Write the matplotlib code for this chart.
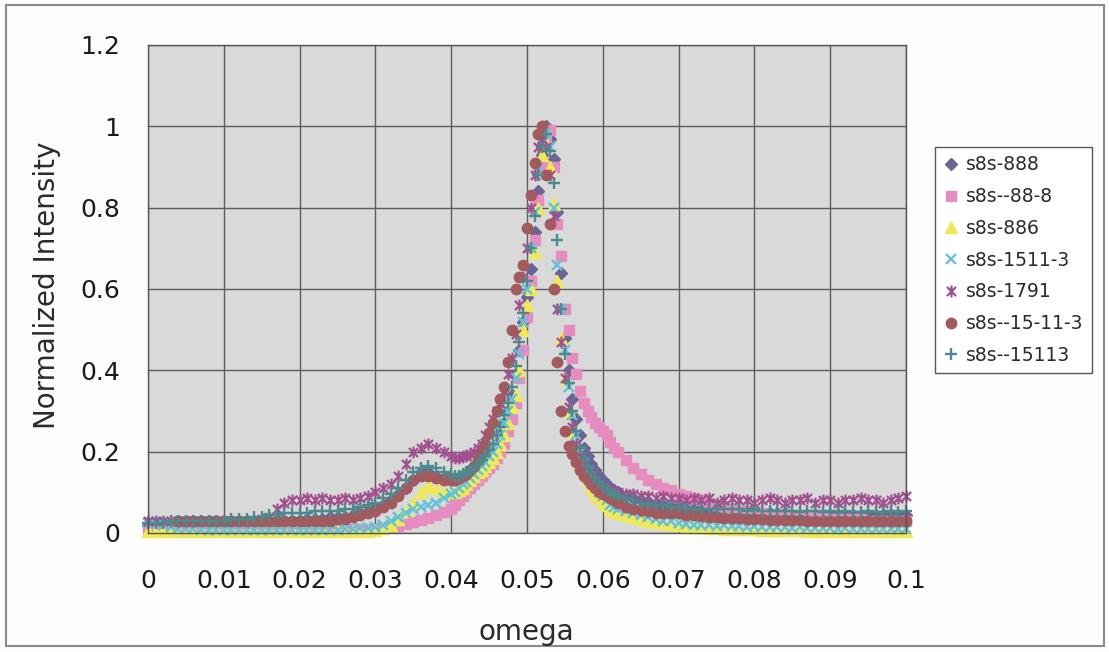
import numpy as np
import matplotlib
matplotlib.use("Agg")
import matplotlib.pyplot as plt
from matplotlib.path import Path
from matplotlib.patches import Rectangle

nan = np.nan

# omega sampling: coarse in the wings, finer through the peak
omega = np.round(np.concatenate([
    np.arange(0.000, 0.0395, 0.001),     # 40 pts
    np.arange(0.0400, 0.06205, 0.0005),  # 45 pts
    np.arange(0.063, 0.1005, 0.001),     # 38 pts
]), 4)

s888 = [
    0.02, 0.02, 0.02, 0.02, 0.02, 0.02, 0.02, 0.02, 0.02, 0.02,
    0.02, 0.02, 0.02, 0.025, 0.025, 0.025, 0.03, 0.03, 0.03, 0.03,
    0.03, 0.035, 0.035, 0.035, 0.04, 0.04, 0.04, 0.045, 0.05, 0.055,
    0.06, 0.07, 0.08, 0.095, 0.11, 0.13, 0.15, 0.15, 0.14, 0.135,
    0.130, 0.130, 0.130, 0.135, 0.140, 0.145, 0.150, 0.155, 0.165, 0.175,
    0.190, 0.200, 0.220, 0.240, 0.270, 0.300, 0.340, 0.390, 0.450, 0.520,
    0.580, 0.650, 0.740, 0.840, 0.930, 1.000, 0.970, 0.920, 0.790, 0.640,
    0.480, 0.400, 0.330, 0.280, 0.240, 0.210, 0.190, 0.170, 0.155, 0.140,
    0.130, 0.120, 0.110, 0.105, 0.100,
    0.090, 0.085, 0.080, 0.075, 0.070, 0.070, 0.065, 0.065, 0.060, 0.060,
    0.060, 0.055, 0.055, 0.055, 0.050, 0.050, 0.050, 0.050, 0.050, 0.050,
    0.050, 0.050, 0.045, 0.045, 0.045, 0.045, 0.045, 0.045, 0.045, 0.045,
    0.045, 0.045, 0.045, 0.045, 0.045, 0.045, 0.045, 0.045,
]

s88_8 = [
    0.01, 0.01, 0.01, 0.01, 0.01, 0.01, 0.01, 0.01, 0.01, 0.01,
    0.01, 0.01, 0.01, 0.01, 0.01, 0.01, 0.01, 0.01, 0.01, 0.01,
    0.01, 0.01, 0.01, 0.01, 0.01, 0.01, 0.01, 0.01, 0.01, 0.01,
    0.010, 0.012, 0.015, 0.018, 0.022, 0.027, 0.032, 0.038, 0.045, 0.052,
    0.060, 0.070, 0.080, 0.090, 0.100, 0.110, 0.120, 0.130, 0.140, 0.150,
    0.160, 0.170, 0.185, 0.200, 0.220, 0.250, 0.280, 0.320, 0.380, 0.450,
    0.530, 0.620, 0.720, 0.820, 0.900, 0.970, 0.990, 0.900, 0.760, 0.680,
    0.550, 0.500, 0.430, 0.390, 0.350, 0.320, 0.300, 0.285, 0.270, 0.260,
    0.250, 0.240, 0.225, 0.210, 0.200,
    0.180, 0.160, 0.145, 0.130, 0.120, 0.110, 0.105, 0.095, 0.090, 0.085,
    0.080, 0.075, 0.070, 0.065, 0.060, 0.055, 0.055, 0.050, 0.050, 0.045,
    0.045, 0.045, 0.040, 0.040, 0.040, 0.040, 0.040, 0.035, 0.035, 0.035,
    0.035, 0.035, 0.030, 0.030, 0.030, 0.030, 0.030, 0.030,
]

s886 = [
    0.005, 0.005, 0.005, 0.005, 0.005, 0.005, 0.005, 0.005, 0.005, 0.005,
    0.005, 0.005, 0.005, 0.005, 0.005, 0.005, 0.005, 0.005, 0.005, 0.005,
    0.005, 0.005, 0.005, 0.005, 0.005, 0.005, 0.005, 0.005, 0.005, 0.005,
    0.008, 0.012, 0.020, 0.035, 0.055, 0.075, 0.100, 0.115, 0.110, 0.100,
    0.100, 0.100, 0.105, 0.110, 0.120, 0.130, 0.140, 0.150, 0.155, 0.165,
    0.175, 0.185, 0.200, 0.220, 0.240, 0.270, 0.310, 0.340, 0.400, 0.500,
    0.560, 0.600, 0.690, 0.800, 0.930, 0.960, 0.900, 0.810, 0.620, 0.480,
    0.380, 0.300, 0.250, 0.210, 0.175, 0.150, 0.130, 0.110, 0.095, 0.085,
    0.075, 0.070, 0.060, 0.055, 0.050,
    0.045, 0.040, 0.035, 0.030, 0.028, 0.025, 0.022, 0.020, 0.018, 0.015,
    0.015, 0.012, 0.012, 0.010, 0.010, 0.010, 0.010, 0.010, 0.008, 0.008,
    0.008, 0.008, 0.008, 0.008, 0.005, 0.005, 0.005, 0.005, 0.005, 0.005,
    0.005, 0.005, 0.005, 0.005, 0.005, 0.005, 0.005, 0.005,
]

s1511_3 = [
    0.025, 0.025, 0.020, 0.015, 0.010, 0.010, 0.010, 0.008, 0.008, 0.008,
    0.008, 0.008, 0.008, 0.008, 0.008, 0.008, 0.008, 0.008, 0.008, 0.008,
    0.008, 0.008, 0.008, 0.008, 0.008, 0.008, 0.010, 0.010, 0.012, 0.012,
    0.015, 0.020, 0.030, 0.040, 0.050, 0.060, 0.065, 0.070, 0.075, 0.085,
    0.095, 0.100, 0.110, 0.120, 0.125, 0.135, 0.145, 0.155, 0.165, 0.175,
    0.190, 0.200, 0.220, 0.240, 0.270, 0.300, 0.330, 0.380, 0.440, 0.520,
    0.600, 0.700, 0.790, 0.900, 0.960, 0.980, 0.950, 0.800, 0.660, 0.550,
    0.450, 0.360, 0.290, 0.240, 0.200, 0.170, 0.150, 0.130, 0.115, 0.100,
    0.090, 0.080, 0.070, 0.065, 0.060,
    0.055, 0.050, 0.045, 0.040, 0.035, 0.030, 0.030, 0.025, 0.022, 0.020,
    0.020, 0.020, 0.018, 0.020, 0.018, 0.018, 0.015, 0.018, 0.015, 0.015,
    0.015, 0.015, 0.012, 0.015, 0.012, 0.012, 0.012, 0.012, 0.010, 0.012,
    0.010, 0.010, 0.010, 0.010, 0.010, 0.010, 0.010, 0.010,
]

s1791 = [
    0.030, 0.030, 0.030, 0.030, 0.030, 0.030, 0.030, 0.030, 0.030, 0.030,
    0.030, 0.030, 0.030, 0.030, 0.030, 0.035, 0.040, 0.060, 0.075, 0.080,
    0.080, 0.085, 0.080, 0.085, 0.080, 0.080, 0.085, 0.080, 0.085, 0.090,
    0.100, 0.110, 0.120, 0.140, 0.170, 0.200, 0.210, 0.220, 0.210, 0.200,
    0.190, 0.185, 0.185, 0.190, 0.190, 0.195, 0.200, 0.210, 0.220, 0.240,
    0.260, 0.280, 0.300, 0.320, 0.350, 0.390, 0.430, 0.490, 0.560, 0.630,
    0.700, 0.800, 0.880, 0.950, 0.970, 0.950, 0.880, 0.780, 0.550, 0.470,
    0.380, 0.310, 0.260, 0.220, 0.190, 0.170, 0.155, 0.140, 0.130, 0.120,
    0.115, 0.110, 0.105, 0.100, 0.100,
    0.095, 0.095, 0.090, 0.090, 0.085, 0.090, 0.085, 0.085, 0.080, 0.085,
    0.080, 0.085, 0.075, 0.080, 0.085, 0.080, 0.080, 0.075, 0.080, 0.085,
    0.080, 0.075, 0.080, 0.080, 0.085, 0.075, 0.080, 0.080, 0.075, 0.080,
    0.080, 0.085, 0.080, 0.080, 0.075, 0.080, 0.085, 0.090,
]

s15_11_3 = [
    nan, nan, nan, nan, 0.030, 0.030, 0.030, 0.030, 0.030, 0.030,
    0.030, 0.030, 0.030, 0.030, 0.030, 0.030, 0.030, 0.030, 0.030, 0.030,
    0.030, 0.030, 0.030, 0.030, 0.030, 0.035, 0.035, 0.040, 0.045, 0.050,
    0.055, 0.065, 0.075, 0.090, 0.110, 0.130, 0.140, 0.140, 0.135, 0.130,
    0.130, 0.130, 0.135, 0.140, 0.145, 0.155, 0.165, 0.180, 0.200, 0.220,
    0.245, 0.270, 0.300, 0.330, 0.360, 0.420, 0.500, 0.600, 0.630, 0.660,
    0.750, 0.830, 0.910, 0.980, 1.000, 0.880, 0.760, 0.600, 0.420, 0.300,
    0.250, 0.215, 0.195, 0.175, 0.155, 0.140, 0.130, 0.120, 0.110, 0.100,
    0.095, 0.090, 0.085, 0.080, 0.075,
    0.065, 0.060, 0.057, 0.053, 0.050, 0.050, 0.048, 0.048, 0.045, 0.045,
    0.042, 0.040, 0.040, 0.038, 0.038, 0.036, 0.035, 0.035, 0.035, 0.033,
    0.033, 0.033, 0.032, 0.032, 0.030, 0.030, 0.030, 0.030, 0.030, 0.030,
    0.030, 0.030, 0.030, 0.030, 0.030, 0.030, 0.030, 0.030,
]

s15113 = [
    0.025, 0.025, 0.025, 0.030, 0.030, 0.030, 0.030, 0.030, 0.030, 0.030,
    0.030, 0.035, 0.035, 0.035, 0.040, 0.040, 0.045, 0.045, 0.050, 0.050,
    0.050, 0.050, 0.055, 0.055, 0.055, 0.055, 0.060, 0.060, 0.065, 0.070,
    0.075, 0.085, 0.095, 0.110, 0.130, 0.150, 0.160, 0.165, 0.160, 0.150,
    0.145, 0.140, 0.140, 0.145, 0.150, 0.155, 0.160, 0.170, 0.180, 0.190,
    0.205, 0.220, 0.240, 0.260, 0.290, 0.320, 0.360, 0.410, 0.470, 0.540,
    0.620, 0.700, 0.780, 0.880, 0.950, 0.980, 0.940, 0.860, 0.720, 0.550,
    0.440, 0.370, 0.300, 0.250, 0.210, 0.185, 0.165, 0.150, 0.135, 0.125,
    0.115, 0.105, 0.100, 0.095, 0.090,
    0.085, 0.080, 0.075, 0.072, 0.070, 0.068, 0.065, 0.065, 0.062, 0.060,
    0.060, 0.060, 0.058, 0.060, 0.058, 0.058, 0.055, 0.058, 0.055, 0.055,
    0.055, 0.055, 0.055, 0.052, 0.055, 0.055, 0.052, 0.055, 0.052, 0.055,
    0.052, 0.052, 0.055, 0.052, 0.052, 0.055, 0.052, 0.055,
]

labels = ["s8s-888", "s8s--88-8", "s8s-886", "s8s-1511-3",
          "s8s-1791", "s8s--15-11-3", "s8s--15113"]
xticks = [0, 0.01, 0.02, 0.03, 0.04, 0.05, 0.06, 0.07, 0.08, 0.09, 0.1]
xticklabels = ["0", "0.01", "0.02", "0.03", "0.04", "0.05",
               "0.06", "0.07", "0.08", "0.09", "0.1"]
yticks = [0, 0.2, 0.4, 0.6, 0.8, 1.0, 1.2]
yticklabels = ["0", "0.2", "0.4", "0.6", "0.8", "1", "1.2"]

# excel style asterisk: an x with a vertical bar
asterisk = Path([(-1, -1), (1, 1), (-1, 1), (1, -1), (0, -1.3), (0, 1.3)],
                [Path.MOVETO, Path.LINETO] * 3)

styles = [
    dict(marker="D", ms=6, color="#6a6595"),
    dict(marker="s", ms=7, color="#e78cbf"),
    dict(marker="^", ms=8, color="#efe95a"),
    dict(marker="x", ms=7.5, mew=1.7, color="#62c2d9"),
    dict(marker=asterisk, ms=8.5, mew=1.6, color="#a0508f"),
    dict(marker="o", ms=7.5, color="#a35a5e"),
    dict(marker="+", ms=9, mew=1.7, color="#4e8a8c"),
]

plt.rcParams["font.family"] = ["DejaVu Sans"]

fig = plt.figure(figsize=(11.09, 6.52), dpi=100, facecolor="#fdfdfb")
ax = fig.add_axes([148 / 1109, 1 - 533 / 652, (906 - 148) / 1109, (533 - 45) / 652])
ax.set_facecolor("#d9d9d9")

series = [s888, s88_8, s886, s1511_3, s1791, s15_11_3, s15113]
for vals, lab, st in zip(series, labels, styles):
    assert len(vals) == len(omega)
    ax.plot(omega, vals, linestyle="none", label=lab, clip_on=False,
            markeredgecolor=st["color"], markerfacecolor=st["color"],
            **{k: v for k, v in st.items() if k != "color"})

ax.set_xlim(0, 0.1)
ax.set_ylim(0, 1.2)
ax.set_xticks(xticks)
ax.set_xticklabels(xticklabels)
ax.set_yticks(yticks)
ax.set_yticklabels(yticklabels)
ax.tick_params(axis="both", length=0, labelsize=18, colors="#1a1a1a")
ax.tick_params(axis="x", pad=26)
ax.tick_params(axis="y", pad=20)
ax.grid(True, color="#5c5c5c", linewidth=1.0)
ax.set_axisbelow(True)
for sp in ax.spines.values():
    sp.set_color("#555555")
    sp.set_linewidth(1.0)

fig.text(47 / 1109, 1 - 285 / 652, "Normalized Intensity", rotation=90,
         ha="center", va="center", fontsize=20, color="#2a2a2a")
fig.text(526 / 1109, 1 - 640 / 652, "omega", ha="center", va="baseline",
         fontsize=20, color="#2a2a2a")

leg = ax.legend(loc="upper left", bbox_to_anchor=(935 / 1109, 1 - 147 / 652),
                bbox_transform=fig.transFigure, borderaxespad=0, numpoints=1,
                fancybox=False, framealpha=1, edgecolor="#555555",
                fontsize=13.5, handlelength=0.8, handletextpad=0.4,
                borderpad=0.45, labelspacing=0.68)
leg.get_frame().set_linewidth(1.0)
for t in leg.get_texts():
    t.set_color("#2a2a2a")

fig.patches.append(Rectangle((6 / 1109, 6 / 652), 1098 / 1109, 641 / 652,
                             transform=fig.transFigure, fill=False,
                             edgecolor="#8a8a8a", linewidth=1.5))

fig.savefig("out.png", dpi=100, facecolor=fig.get_facecolor())
